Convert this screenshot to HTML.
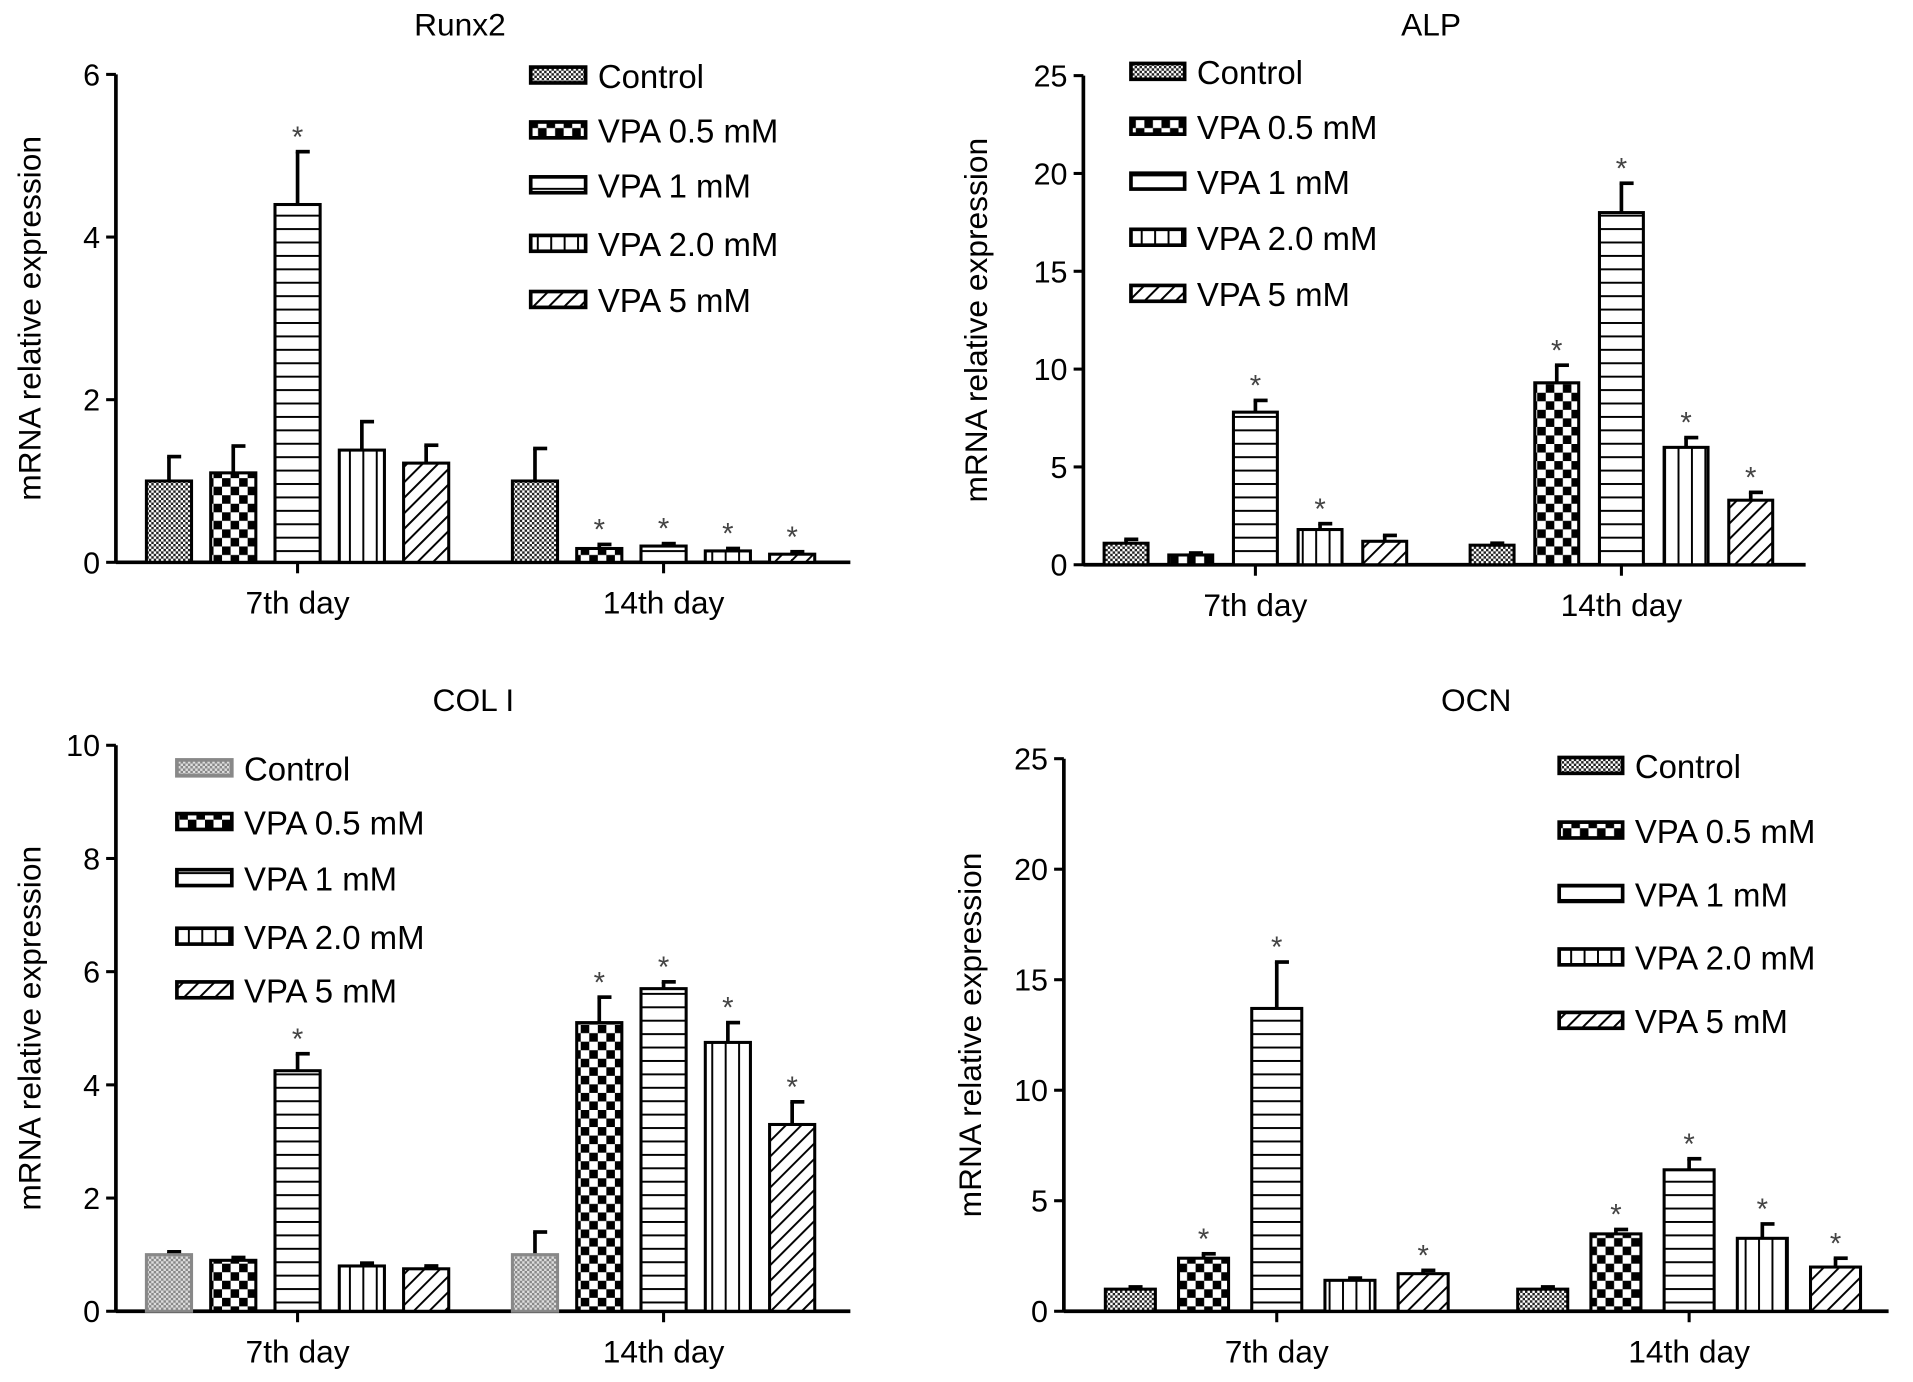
<!DOCTYPE html>
<html><head><meta charset="utf-8"><style>
html,body{margin:0;padding:0;background:#fff;}
svg{display:block;font-family:"Liberation Sans",Arial,sans-serif;}
</style></head><body>
<svg id="fig" width="1913" height="1382" viewBox="0 0 1568 1133" preserveAspectRatio="none" xmlns="http://www.w3.org/2000/svg">
<defs>
<pattern id="p0" patternUnits="userSpaceOnUse" width="4" height="4"><rect width="4" height="4" fill="#fff"/><rect width="2" height="2" fill="#222"/><rect x="2" y="2" width="2" height="2" fill="#222"/></pattern>
<pattern id="p0g" patternUnits="userSpaceOnUse" width="4" height="4"><rect width="4" height="4" fill="#ddd"/><rect width="2" height="2" fill="#888"/><rect x="2" y="2" width="2" height="2" fill="#888"/></pattern>
<pattern id="p1" patternUnits="userSpaceOnUse" width="14" height="14"><rect width="14" height="14" fill="#fff"/><rect width="7" height="7" fill="#000"/><rect x="7" y="7" width="7" height="7" fill="#000"/></pattern>
<pattern id="p2" patternUnits="userSpaceOnUse" width="10" height="11"><rect width="10" height="11" fill="#fff"/><rect y="0" width="10" height="1.6" fill="#000"/></pattern>
<pattern id="p3" patternUnits="userSpaceOnUse" width="11" height="10"><rect width="11" height="10" fill="#fff"/><rect x="0" width="1.6" height="10" fill="#000"/></pattern>
<pattern id="p4" patternUnits="userSpaceOnUse" width="9" height="9" patternTransform="rotate(45)"><rect width="9" height="9" fill="#fff"/><rect width="1.6" height="9" fill="#000"/></pattern>
</defs>
</svg>
<script>
const seriesNames=["Control","VPA 0.5 mM","VPA 1 mM","VPA 2.0 mM","VPA 5 mM"];
const groups=["7th day","14th day"];
const runx2Values=[[1.0,1.1,4.4,1.38,1.22],[1.0,0.17,0.2,0.14,0.1]];
const runx2Err=[[0.3,0.33,0.65,0.35,0.22],[0.4,0.05,0.03,0.03,0.03]];
const runx2Star=[[0,0,1,0,0],[0,1,1,1,1]];
const runx2Ticks=[0,2,4,6];
const alpValues=[[1.1,0.5,7.8,1.8,1.2],[1.0,9.3,18,6.0,3.3]];
const alpErr=[[0.2,0.1,0.6,0.3,0.3],[0.1,0.9,1.5,0.5,0.4]];
const alpStar=[[0,0,1,1,0],[0,1,1,1,1]];
const alpTicks=[0,5,10,15,20,25];
const colValues=[[1.0,0.9,4.25,0.8,0.75],[1.0,5.1,5.7,4.75,3.3]];
const colErr=[[0.05,0.05,0.3,0.05,0.05],[0.4,0.45,0.12,0.35,0.4]];
const colStar=[[0,0,1,0,0],[0,1,1,1,1]];
const colTicks=[0,2,4,6,8,10];
const ocnValues=[[1.0,2.4,13.7,1.4,1.7],[1.0,3.5,6.4,3.3,2.0]];
const ocnErr=[[0.1,0.2,2.1,0.1,0.15],[0.1,0.2,0.5,0.65,0.4]];
const ocnStar=[[0,1,1,0,1],[0,1,1,1,1]];
const ocnTicks=[0,5,10,15,20,25];

const svg=document.getElementById('fig');
const NS='http://www.w3.org/2000/svg';
function mk(tag,attrs,parent,text){const e=document.createElementNS(NS,tag);for(const k in attrs)e.setAttribute(k,attrs[k]);if(text!==undefined)e.textContent=text;(parent||svg).appendChild(e);return e;}

function panel(cfg){
  const g=mk('g',{});
  
  
  const max=cfg.ticks[cfg.ticks.length-1];
  const y=v=>cfg.y0-(v/max)*(cfg.y0-cfg.yTop);
  const t=mk('text',{x:cfg.titleX,y:cfg.titleY,'font-size':26,'text-anchor':'middle'},g,cfg.title);
  
  
  mk('line',{x1:cfg.ax,y1:cfg.y0+1,x2:cfg.ax,y2:cfg.yTop,stroke:'#000','stroke-width':3},g);
  cfg.ticks.forEach(v=>{
    mk('line',{x1:cfg.ax-8,y1:y(v),x2:cfg.ax,y2:y(v),stroke:'#000','stroke-width':2.5},g);
    const tl=mk('text',{x:cfg.ax-13,y:y(v)+9,'font-size':25,'text-anchor':'end'},g,String(v));
    
    
  });
  const yt=mk('text',{x:0,y:0,'font-size':26,'text-anchor':'middle',transform:`translate(${cfg.ytX},${(cfg.y0+cfg.yTop)/2}) rotate(-90)`},g,'mRNA relative expression');
  
  
  mk('line',{x1:cfg.ax,y1:cfg.y0,x2:cfg.axEnd,y2:cfg.y0,stroke:'#000','stroke-width':3},g);
  groups.forEach((gn,gi)=>{
    const cx=cfg.groupStart[gi]+2*cfg.step+cfg.bw/2;
    mk('line',{x1:cx,y1:cfg.y0,x2:cx,y2:cfg.y0+9,stroke:'#000','stroke-width':2.5},g);
    const xl=mk('text',{x:cx,y:cfg.y0+42,'font-size':26,'text-anchor':'middle'},g,gn);
    
    
    cfg.values[gi].forEach((v,si)=>{
      const x=cfg.groupStart[gi]+si*cfg.step;
      const top=y(v), et=y(v+cfg.err[gi][si]);
      const bx=x+cfg.bw/2;
      const eb=mk('line',{x1:bx,y1:top,x2:bx,y2:et,stroke:'#000','stroke-width':3},g);
      
      
      mk('line',{x1:bx-1.5,y1:et,x2:bx+10,y2:et,stroke:'#000','stroke-width':3},g);
      const fill=(si===0&&cfg.grayControl)?'url(#p0g)':`url(#p${si})`;
      const r=mk('rect',{x:x,y:top,width:cfg.bw,height:cfg.y0-top,fill:fill,stroke:(si===0&&cfg.grayControl)?'#888':'#000','stroke-width':2.5},g);
      
      
      if(cfg.star[gi][si]){
        const s=mk('text',{x:bx,y:et-4,'font-size':24,'text-anchor':'middle',fill:'#444'},g,'*');
        
        
      }
    });
  });
  seriesNames.forEach((n,si)=>{
    const ry=cfg.legY[si];
    const fill=(si===0&&cfg.grayControl)?'url(#p0g)':`url(#p${si})`;
    const sw=mk('rect',{x:cfg.legX,y:ry-7,width:cfg.legW,height:13,fill:fill,stroke:(si===0&&cfg.grayControl)?'#888':'#000','stroke-width':3},g);
    
    
    const lt=mk('text',{x:cfg.legX+cfg.legW+10,y:ry+10,'font-size':27},g,n);
    
    
  });
}
panel({name:'runx2',title:'Runx2',titleX:377,titleY:29,ax:95,y0:461,yTop:61,axEnd:697,ticks:runx2Ticks,values:runx2Values,err:runx2Err,star:runx2Star,groupStart:[120,420],step:52.7,bw:37,ytX:33,legX:435,legW:45,legY:[62,107,152,200,246]});
panel({name:'alp',title:'ALP',titleX:1173,titleY:29,ax:888,y0:463,yTop:62,axEnd:1480,ticks:alpTicks,values:alpValues,err:alpErr,star:alpStar,groupStart:[905,1205],step:53,bw:36,ytX:809,legX:927,legW:44,legY:[59,104,149,195,241]});
panel({name:'col1',title:'COL I',titleX:388,titleY:583,ax:95,y0:1075,yTop:611,axEnd:697,ticks:colTicks,values:colValues,err:colErr,star:colStar,groupStart:[120,420],step:52.7,bw:37,ytX:33,legX:145,legW:45,legY:[630,674,720,768,812],grayControl:true});
panel({name:'ocn',title:'OCN',titleX:1210,titleY:583,ax:872,y0:1075,yTop:622,axEnd:1548,ticks:ocnTicks,values:ocnValues,err:ocnErr,star:ocnStar,groupStart:[906,1244],step:60,bw:41,ytX:804,legX:1278,legW:52,legY:[628,681,733,785,837]});
</script>
</body></html>
